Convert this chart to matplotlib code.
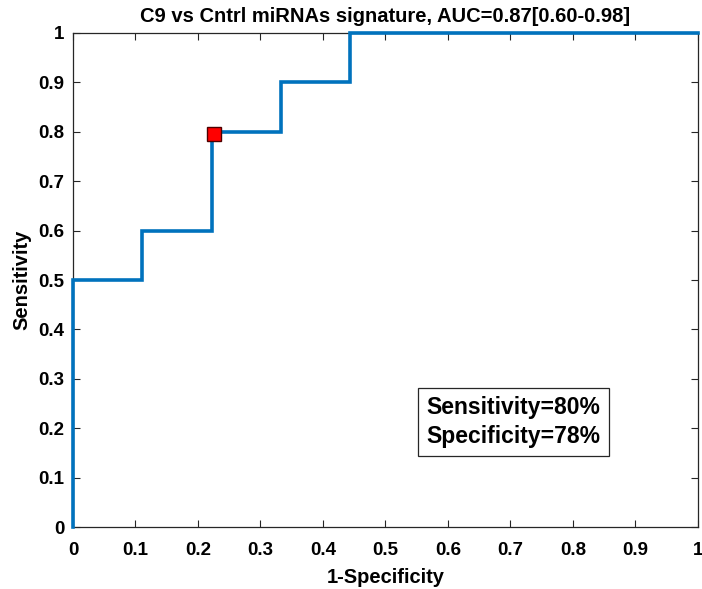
import matplotlib
matplotlib.use("Agg")
import matplotlib.pyplot as plt

# ROC curve data (1-specificity, sensitivity)
fpr = [0, 0, 0.111, 0.111, 0.222, 0.222, 0.333, 0.333, 0.444, 0.444, 1.0]
tpr = [0, 0.5, 0.5, 0.6, 0.6, 0.8, 0.8, 0.9, 0.9, 1.0, 1.0]
opt_point = (0.225, 0.795)
ticks = [0, 0.1, 0.2, 0.3, 0.4, 0.5, 0.6, 0.7, 0.8, 0.9, 1]
tick_labels = ["0", "0.1", "0.2", "0.3", "0.4", "0.5", "0.6", "0.7", "0.8", "0.9", "1"]
title = "C9 vs Cntrl miRNAs signature, AUC=0.87[0.60-0.98]"
box_text = "Sensitivity=80%\nSpecificity=78%"

plt.rcParams['font.family'] = ['Liberation Sans', 'DejaVu Sans']

fig = plt.figure(figsize=(7.02, 5.89), dpi=100)
ax = fig.add_axes([0.104, 0.105, 0.890, 0.839])

ax.plot(fpr, tpr, color='#0072BD', lw=2.6, solid_joinstyle='miter', clip_on=False, zorder=3)
ax.plot([opt_point[0]], [opt_point[1]], marker='s', markersize=10, color='red',
        markeredgecolor='#4d0000', markeredgewidth=1.0, zorder=4, clip_on=False)

ax.set_xlim(0, 1)
ax.set_ylim(0, 1)
ax.set_xticks(ticks)
ax.set_yticks(ticks)
ax.set_xticklabels(tick_labels, fontsize=13.5, fontweight='bold')
ax.set_yticklabels(tick_labels, fontsize=13.5, fontweight='bold')
ax.tick_params(direction='in', top=True, right=True, length=5, width=0.8, color='#262626')
ax.tick_params(axis='x', pad=11)
ax.tick_params(axis='y', pad=6)
for s in ax.spines.values():
    s.set_linewidth(0.9)
    s.set_color('#262626')

ax.set_xlabel("1-Specificity", fontsize=14.5, fontweight='bold', labelpad=6)
ax.set_ylabel("Sensitivity", fontsize=14.5, fontweight='bold', labelpad=5)
ax.set_title(title, fontsize=14.5, fontweight='bold', pad=8)

ax.text(0.7055, 0.213, box_text, transform=ax.transData, ha='center', va='center',
        fontsize=16.5, fontweight='bold', linespacing=1.3,
        bbox=dict(boxstyle='square,pad=0.37', facecolor='white', edgecolor='#262626', linewidth=0.9))

fig.savefig("out.png", dpi=100)
